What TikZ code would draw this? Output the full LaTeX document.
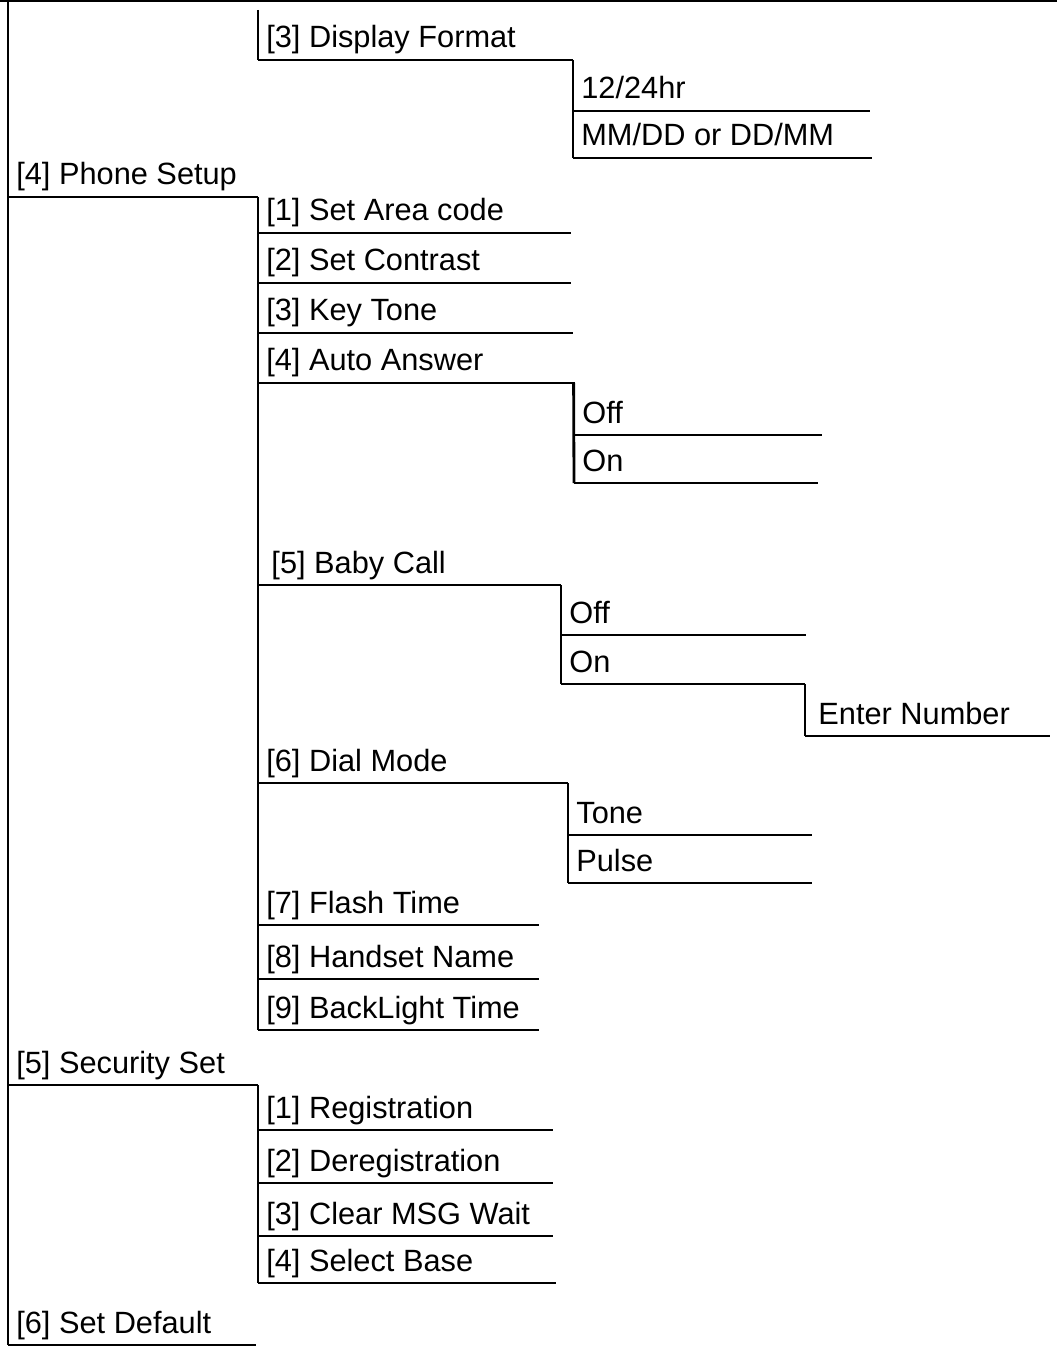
\documentclass[tikz,border=0pt]{standalone}
\usepackage{fontspec}
\setmainfont{Liberation Sans}
\tikzset{
  menu/.style={anchor=base west, inner sep=0pt, font=\fontsize{17.5}{20}\selectfont},
  rule/.style={line width=1.6pt}
}
% one menu entry: name, left x, right x, underline y, text
\newcommand{\menuentry}[5]{%
  \coordinate (#1-l) at (#2,#4);
  \coordinate (#1-r) at (#3,#4);
  \node[menu] (#1) at (#2+8,#4-12) {#5};
  \draw[rule] (#1-l) -- (#1-r);
}
\begin{document}
\begin{tikzpicture}[x=0.02cm,y=-0.02cm]
    \useasboundingbox (0,0) rectangle (1057,1354);
    \coordinate (top-l) at (0,1);
    \coordinate (top-r) at (1057,1);
    \draw[rule] (top-l) -- (top-r);
    \coordinate (main-top) at (8,0);
    \coordinate (main-bot) at (8,1345);
    \draw[rule] (main-top) -- (main-bot);
    % date / time
    \coordinate (date-top) at (258,10);
    \menuentry{dispfmt}{258}{573}{60}{[3] Display Format}
    \draw[rule] (date-top) -- (dispfmt-l);
    \menuentry{hr}{573}{870}{111}{12/24hr}
    \menuentry{mmdd}{573}{872}{158}{MM/DD or DD/MM}
    \draw[rule] (dispfmt-r) -- (mmdd-l);
    % phone setup
    \menuentry{phone}{8}{258}{197}{[4] Phone Setup}
    \menuentry{area}{258}{571}{233}{[1] Set Area code}
    \menuentry{contrast}{258}{571}{283}{[2] Set Contrast}
    \menuentry{keytone}{258}{573}{333}{[3] Key Tone}
    \menuentry{auto}{258}{575}{383}{[4] Auto Answer}
    \menuentry{autooff}{574}{822}{435}{Off}
    \menuentry{autoon}{574}{818}{483}{On}
    \draw[rule] ([xshift=-0.8pt]auto-r) -- (autoon-l);
    \menuentry{baby}{258}{561}{585}{\,[5] Baby Call}
    \menuentry{babyoff}{561}{806}{635}{Off}
    \menuentry{babyon}{561}{805}{684}{On}
    \draw[rule] (baby-r) -- (babyon-l);
    \menuentry{number}{805}{1050}{736}{\,Enter Number}
    \draw[rule] (babyon-r) -- (number-l);
    \menuentry{dial}{258}{568}{783}{[6] Dial Mode}
    \menuentry{tone}{568}{812}{835}{Tone}
    \menuentry{pulse}{568}{812}{883}{Pulse}
    \draw[rule] (dial-r) -- (pulse-l);
    \menuentry{flash}{258}{539}{925}{[7] Flash Time}
    \menuentry{hsname}{258}{539}{979}{[8] Handset Name}
    \menuentry{backlight}{258}{539}{1030}{[9] BackLight Time}
    \draw[rule] (phone-r) -- (backlight-l);
    % security
    \menuentry{security}{8}{258}{1085}{[5] Security Set}
    \menuentry{reg}{258}{553}{1130}{[1] Registration}
    \menuentry{dereg}{258}{553}{1183}{[2] Deregistration}
    \menuentry{msg}{258}{553}{1236}{[3] Clear MSG Wait}
    \menuentry{base}{258}{556}{1283}{[4] Select Base}
    \draw[rule] (security-r) -- (base-l);
    \menuentry{default}{8}{256}{1345}{[6] Set Default}
\end{tikzpicture}
\end{document}
